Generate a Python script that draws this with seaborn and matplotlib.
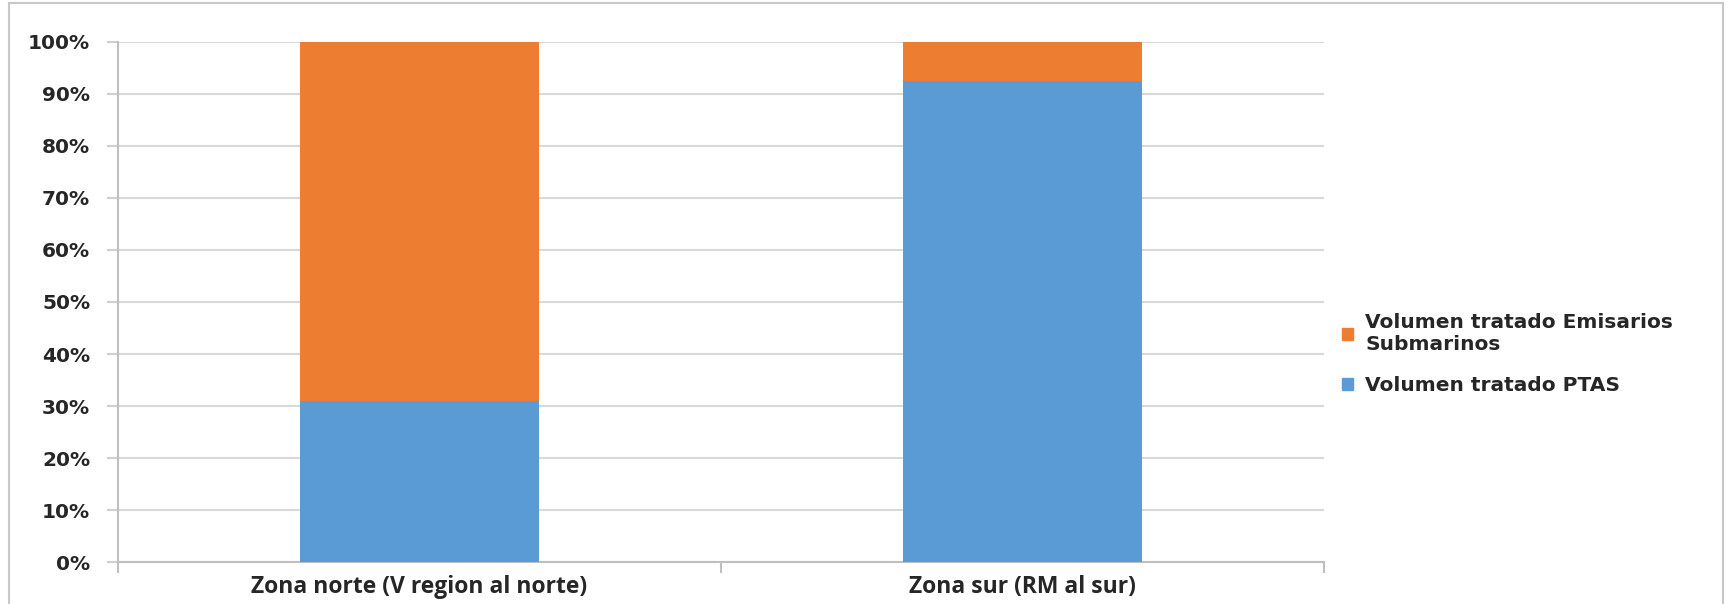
import numpy as np
import pandas as pd
import seaborn as sns
import matplotlib.pyplot as plt
from matplotlib.patches import Patch, Rectangle
from matplotlib.ticker import PercentFormatter, FixedLocator

# Values (share of treated volume, %)
zonas = ['Zona norte (V region al norte)', 'Zona sur (RM al sur)']
ptas = [30.9, 92.5]
emisarios = [69.1, 7.5]
series_labels = ['Volumen tratado Emisarios\nSubmarinos', 'Volumen tratado PTAS']

blue = '#5B9BD5'
orange = '#ED7D31'
grid_gray = '#D9D9D9'

sns.set_style('white')
plt.rcParams['font.family'] = ['DejaVu Sans']

fig = plt.figure(figsize=(17.34, 6.04), dpi=100)
ax = fig.add_axes([0.068, 0.0695, 0.6956, 0.861])

df = pd.DataFrame({'zona': zonas, 'ptas': ptas, 'emisarios': emisarios})

# stacked bars: PTAS at the bottom, submarine outfalls on top
sns.barplot(data=df, x='zona', y='ptas', color=blue, width=0.396,
            saturation=1, linewidth=0, ax=ax, zorder=3)
sns.barplot(data=df, x='zona', y='emisarios', bottom=df['ptas'], color=orange,
            width=0.396, saturation=1, linewidth=0, ax=ax, zorder=3)

ax.set_xlim(-0.5, 1.5)
ax.set_ylim(0, 100)
ax.set_yticks(np.arange(0, 101, 10))
ax.yaxis.set_major_formatter(PercentFormatter(decimals=0))
ax.grid(axis='y', color=grid_gray, linewidth=1.5, zorder=0)
ax.set_xlabel('')
ax.set_ylabel('')

for side in ['top', 'right']:
    ax.spines[side].set_visible(False)
for side in ['left', 'bottom']:
    ax.spines[side].set_color('#BFBFBF')
    ax.spines[side].set_linewidth(1.5)

ax.tick_params(axis='y', left=True, length=8, width=1.5, color='#D0D0D0',
               labelsize=14.5, pad=12)
for lbl in ax.get_yticklabels():
    lbl.set_fontweight('bold')
    lbl.set_color('#262626')

# category ticks sit between the bars
ax.tick_params(axis='x', length=0, labelsize=16.5, pad=9)
ax.xaxis.set_minor_locator(FixedLocator([-0.5, 0.5, 1.5]))
ax.tick_params(axis='x', which='minor', bottom=True, length=8, width=1.5,
               color='#BFBFBF')
for lbl in ax.get_xticklabels():
    lbl.set_fontfamily('Open Sans')
    lbl.set_fontweight('bold')
    lbl.set_color('#262626')

handles = [Patch(color=orange), Patch(color=blue)]
ax.legend(handles, series_labels, loc='center left', bbox_to_anchor=(1.0, 0.40),
          frameon=False, handlelength=0.55, handleheight=0.55, handletextpad=0.6,
          labelspacing=1.1, prop={'weight': 'bold', 'size': 14.5},
          labelcolor='#262626')

# light frame around the whole chart (bottom edge is cut off in the original)
fig.patches.append(Rectangle((0.0052, -0.01), 0.9885, 1.005, transform=fig.transFigure,
                             fill=False, edgecolor='#C8C8C8', linewidth=1.5))

fig.savefig('out.png', dpi=100)
